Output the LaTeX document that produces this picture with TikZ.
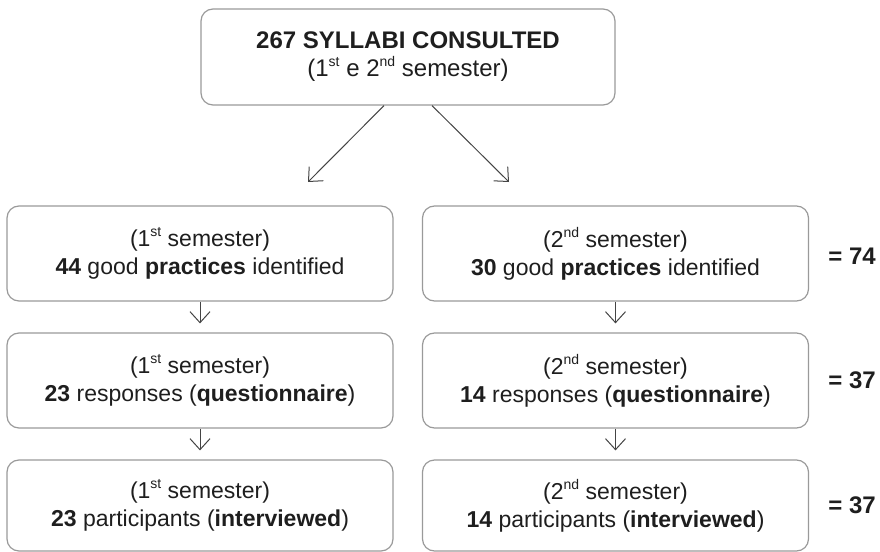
\documentclass[tikz,border=0pt]{standalone}
\usepackage{fontspec}
\setmainfont{Liberation Sans}
\usepackage{xcolor}
\usetikzlibrary{positioning,arrows.meta}
\definecolor{boxgray}{HTML}{9A9A9A}
\definecolor{arrowgray}{HTML}{444444}
\definecolor{textgray}{HTML}{1E1E1E}
\newcommand{\ordsup}[1]{\raisebox{0.42em}{\fontsize{7pt}{7pt}\selectfont #1}}
\tikzset{
  stage/.style={draw=boxgray, line width=0.6pt, rectangle, rounded corners=6pt, minimum width=193pt, minimum height=47.5pt, align=center, text=textgray, font=\fontsize{11.5pt}{14pt}\selectfont},
  title/.style={stage, minimum width=207pt, minimum height=48pt, font=\fontsize{12pt}{14pt}\selectfont},
  total/.style={font=\bfseries\fontsize{12pt}{13pt}\selectfont, text=textgray, anchor=west, inner sep=0pt},
  flow/.style={draw=arrowgray, line width=0.5pt, -{Straight Barb[length=5.5pt,width=10pt]}}
}

\begin{document}
\begin{tikzpicture}[x=0.5pt, y=-0.5pt]
    \useasboundingbox (0,0) rectangle (880,552);

    \node[title] (syllabi) at (408,57) {\textbf{267 SYLLABI CONSULTED}\\(1\ordsup{st} e 2\ordsup{nd} semester)};

    \node[stage] (prac1) at (200,253.5) {(1\ordsup{st} semester)\\\textbf{44} good \textbf{practices} identified};
    \node[stage] (prac2) at (615.5,253.5) {(2\ordsup{nd} semester)\\\textbf{30} good \textbf{practices} identified};

    \node[stage] (resp1) at (200,380.5) {(1\ordsup{st} semester)\\\textbf{23} responses (\textbf{questionnaire})};
    \node[stage] (resp2) at (615.5,380.5) {(2\ordsup{nd} semester)\\\textbf{14} responses (\textbf{questionnaire})};

    \node[stage, minimum height=45.5pt] (part1) at (200,505.5) {(1\ordsup{st} semester)\\\textbf{23} participants (\textbf{interviewed})};
    \node[stage, minimum height=45.5pt] (part2) at (615.5,505.5) {(2\ordsup{nd} semester)\\\textbf{14} participants (\textbf{interviewed})};

    \node[total] (sumprac) at (828,256) {= 74};
    \node[total] (sumresp) at (828,380.5) {= 37};
    \node[total] (sumpart) at (828,505.5) {= 37};

    % split of the consulted syllabi
    \coordinate (split1) at (308,182);
    \coordinate (split2) at (509,182);
    \draw[flow] ([xshift=-12pt]syllabi.south) -- (split1);
    \draw[flow] ([xshift=12pt]syllabi.south) -- (split2);

    \draw[flow, shorten >=4.5pt] (prac1) -- (resp1);
    \draw[flow, shorten >=4.5pt] (resp1) -- (part1);
    \draw[flow, shorten >=4.5pt] (prac2) -- (resp2);
    \draw[flow, shorten >=4.5pt] (resp2) -- (part2);
\end{tikzpicture}
\end{document}
